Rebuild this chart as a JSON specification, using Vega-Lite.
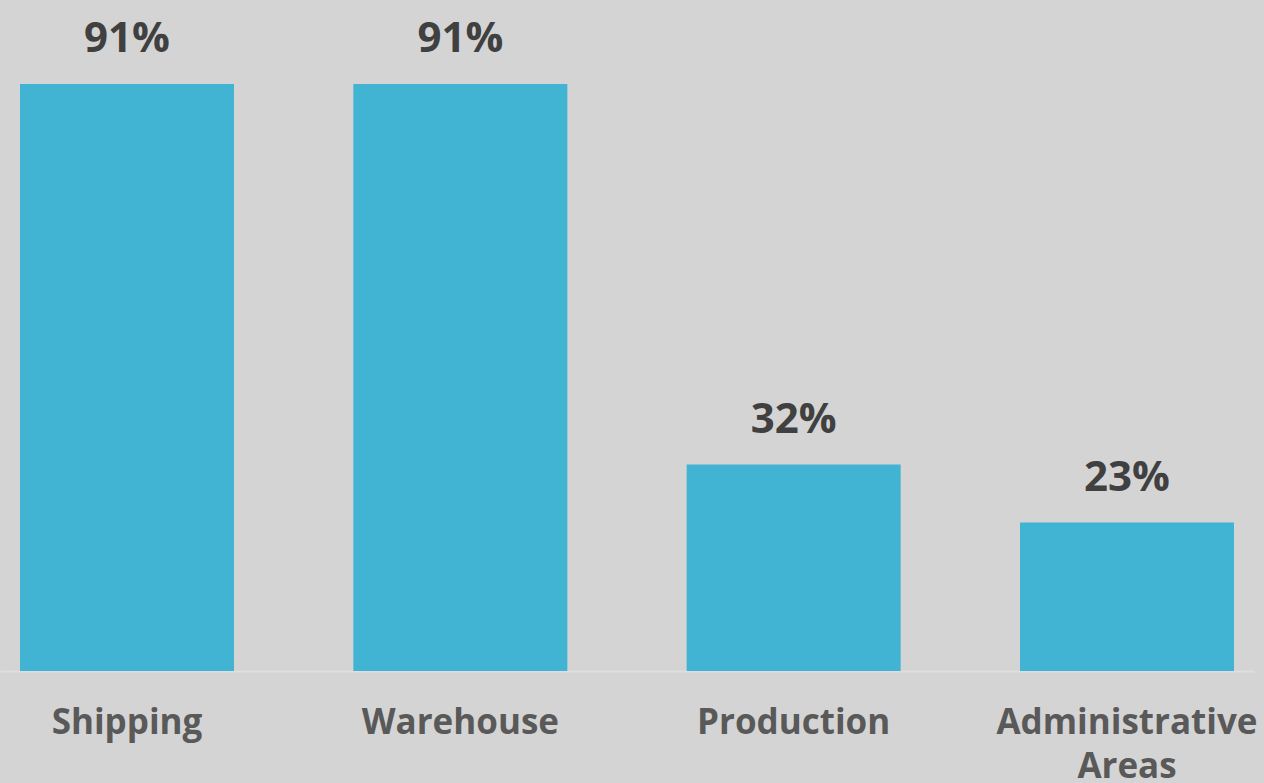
{
  "$schema": "https://vega.github.io/schema/vega-lite/v6.json",
  "autosize": {"type": "none"},
  "padding": {"left": 0, "top": 0, "right": 10, "bottom": 112},
  "width": 1254,
  "height": 671,
  "background": "#d4d4d4",
  "config": {"view": {"stroke": null}},
  "data": {"values": [
    {"area": "Shipping", "pct": 91, "label": "91%"},
    {"area": "Warehouse", "pct": 91, "label": "91%"},
    {"area": "Production", "pct": 32, "label": "32%"},
    {"area": "Administrative Areas", "pct": 23, "label": "23%"}
  ]},
  "encoding": {
    "x": {"field": "area", "type": "nominal", "sort": null,
      "scale": {"paddingInner": 0.358, "paddingOuter": 0.06},
      "axis": {"title": null, "ticks": false, "domain": true, "domainColor": "#dedede", "domainWidth": 2,
        "labelAngle": 0, "labelFont": "Open Sans", "labelFontWeight": "bold", "labelFontSize": 35,
        "labelColor": "#595959", "labelPadding": 34, "labelOverlap": false, "labelBound": false, "labelLimit": 0,
        "labelLineHeight": 44, "labelBaseline": "top",
        "labelExpr": "datum.label == 'Administrative Areas' ? ['Administrative', 'Areas'] : datum.label"}},
    "y": {"field": "pct", "type": "quantitative", "scale": {"domain": [0, 104]}, "axis": null}
  },
  "layer": [
    {"mark": {"type": "bar", "color": "#41b3d3"}},
    {"mark": {"type": "text", "font": "Open Sans", "fontWeight": "bold", "fontSize": 42, "color": "#404040", "baseline": "alphabetic", "dy": -32},
     "encoding": {"text": {"field": "label", "type": "nominal"}}}
  ]
}
